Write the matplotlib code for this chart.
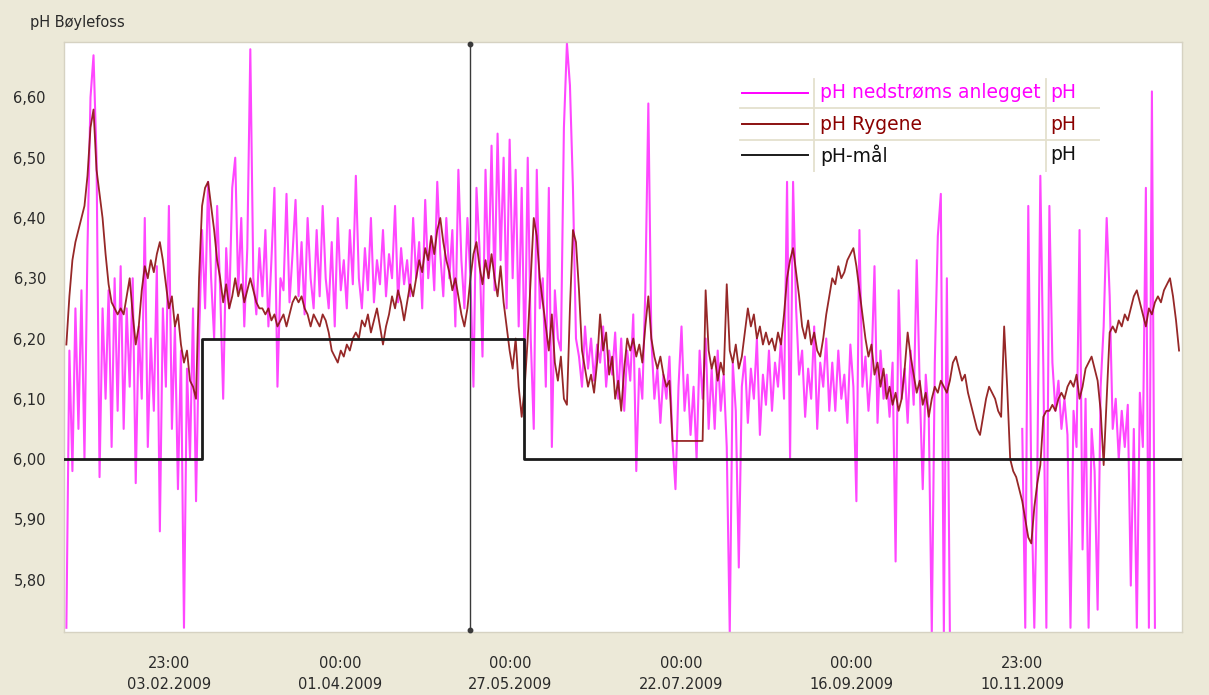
import numpy as np
import matplotlib
matplotlib.use("Agg")
import matplotlib.pyplot as plt
from matplotlib.patches import Rectangle

# ---------------- data (days counted from 01.01.2009 00:00) ----------------
title = "pH Bøylefoss"
series_names = ["pH nedstrøms anlegget", "pH Rygene", "pH-mål"]
series_units = ["pH", "pH", "pH"]

tick_days = [33.958, 90, 146, 202, 258, 313.958]
tick_labels = ["23:00\n03.02.2009", "00:00\n01.04.2009", "00:00\n27.05.2009",
               "00:00\n22.07.2009", "00:00\n16.09.2009", "23:00\n10.11.2009"]
y_ticks = [5.80, 5.90, 6.00, 6.10, 6.20, 6.30, 6.40, 6.50, 6.60]

sample_step = 0.99          # days between the read-off samples

# pH nedstrøms anlegget, first part (before the data gap)
ned_start_1 = 0.22
ned_values_1 = [
    5.72, 6.18, 5.98, 6.25,
    6.05, 6.28, 6.00, 6.35,
    6.60, 6.67, 6.50,
    5.97,
    6.25, 6.10, 6.28, 6.02, 6.30, 6.08,
    6.32, 6.05, 6.25, 6.12, 6.30, 5.96,
    6.22, 6.10, 6.40, 6.02, 6.20, 6.08, 6.32,
    5.88, 6.25, 6.12, 6.42, 6.05, 6.22, 5.95, 6.18,
    5.72,
    6.15, 6.00, 6.25, 5.93, 6.20,
    6.38, 6.25, 6.46, 6.30, 6.20, 6.42, 6.28, 6.10, 6.35,
    6.25, 6.45, 6.50, 6.28, 6.40, 6.22, 6.35, 6.68,
    6.30, 6.24, 6.35, 6.27, 6.38, 6.22, 6.33, 6.45, 6.12, 6.30,
    6.28, 6.44, 6.26, 6.34, 6.43, 6.27, 6.36, 6.24, 6.40, 6.30, 6.25, 6.38,
    6.27, 6.42, 6.30, 6.25, 6.36, 6.22, 6.40, 6.28, 6.33, 6.25,
    6.38, 6.29, 6.47, 6.30, 6.25, 6.35, 6.28, 6.40, 6.26, 6.33,
    6.29, 6.38, 6.27, 6.34, 6.30, 6.42, 6.26, 6.35, 6.29, 6.33,
    6.27, 6.40, 6.30, 6.36, 6.25, 6.43, 6.30, 6.37, 6.28, 6.46,
    6.34, 6.27, 6.40, 6.30, 6.38, 6.22, 6.48, 6.33, 6.25, 6.40,
    6.30, 6.12, 6.45, 6.35, 6.17, 6.48, 6.30, 6.52, 6.28, 6.54,
    6.33, 6.50, 6.25, 6.53, 6.30, 6.48, 6.22, 6.45,
    6.15, 6.50, 6.20, 6.05, 6.48, 6.25, 6.30, 6.12, 6.45, 6.02, 6.28, 6.20,
    6.18, 6.55, 6.69, 6.62, 6.45, 6.20,
    6.17, 6.12, 6.22, 6.15, 6.20, 6.13, 6.19, 6.16, 6.22, 6.12, 6.18, 6.14, 6.21, 6.10,
    6.20, 6.08, 6.18, 6.13, 6.24, 5.98, 6.15, 6.10, 6.28, 6.59,
    6.20, 6.10, 6.15, 6.06, 6.14, 6.10, 6.17, 6.03, 5.95, 6.12,
    6.22, 6.08, 6.14, 6.04, 6.12, 6.00, 6.18, 6.10, 6.20, 6.05,
    6.15, 6.05, 6.18, 6.08, 6.14, 6.02, 5.71, 6.16, 6.08, 5.82,
    6.12, 6.17, 6.06, 6.15, 6.10, 6.20, 6.04, 6.14, 6.09, 6.18,
    6.08, 6.16, 6.12, 6.20, 6.10, 6.46, 6.00, 6.46, 6.25, 6.14,
    6.18, 6.07, 6.15, 6.10, 6.22, 6.05, 6.16, 6.12, 6.20, 6.08,
    6.16, 6.08, 6.18, 6.10, 6.14, 6.06, 6.19, 6.12, 5.93, 6.38,
    6.12, 6.17, 6.08, 6.15, 6.32, 6.06, 6.18, 6.10, 6.14, 6.07,
    6.16, 5.83, 6.28, 6.10, 6.15, 6.06, 6.18, 6.09, 6.33, 6.12,
    5.95, 6.14, 6.07, 5.71, 6.16, 6.37, 6.44, 5.71, 6.30, 5.71,
]
# second part after the data gap
ned_start_2 = 314.05
ned_values_2 = [
    6.05, 5.72, 6.42, 5.96, 5.72, 5.98, 6.47, 6.15, 5.72, 6.42,
    6.16, 6.08, 6.13, 6.05, 6.10, 6.04, 5.72, 6.08, 6.02, 6.38,
    5.85, 6.10, 5.72, 6.05, 5.98, 5.75, 6.12, 6.22, 6.40, 6.27,
    6.05, 6.10, 6.00, 6.08, 6.02, 6.09, 5.79, 6.05, 5.72, 6.11,
    6.02, 6.45, 5.72, 6.61, 5.72,
]

# pH Rygene
ryg_start = 0.22
ryg_values = [
    6.19, 6.27, 6.33, 6.36, 6.38, 6.40, 6.42, 6.47, 6.55, 6.58,
    6.48, 6.44, 6.40, 6.34, 6.29, 6.26, 6.25, 6.24, 6.25, 6.24,
    6.27, 6.30, 6.24, 6.19, 6.22, 6.28, 6.32, 6.30, 6.33, 6.31,
    6.34, 6.36, 6.33, 6.29, 6.25, 6.27, 6.22, 6.24, 6.19, 6.16,
    6.18, 6.13, 6.12, 6.10, 6.30, 6.42, 6.45, 6.46, 6.42, 6.38,
    6.33, 6.30, 6.26, 6.29, 6.25, 6.27, 6.30, 6.27, 6.29, 6.26,
    6.28, 6.30, 6.28, 6.26, 6.25, 6.25, 6.24, 6.25, 6.23, 6.24,
    6.22, 6.23, 6.24, 6.22, 6.24, 6.26, 6.27, 6.26, 6.27, 6.25,
    6.24, 6.22, 6.24, 6.23, 6.22, 6.24, 6.23, 6.21, 6.18, 6.17,
    6.16, 6.18, 6.17, 6.19, 6.18, 6.20, 6.21, 6.20, 6.23, 6.22,
    6.24, 6.21, 6.23, 6.25, 6.22, 6.19, 6.22, 6.24, 6.27, 6.25,
    6.28, 6.26, 6.23, 6.26, 6.29, 6.27, 6.30, 6.33, 6.31, 6.35,
    6.33, 6.37, 6.34, 6.38, 6.40, 6.36, 6.33, 6.31, 6.28, 6.30,
    6.27, 6.24, 6.22, 6.25, 6.30, 6.34, 6.36, 6.32, 6.29, 6.33,
    6.30, 6.34, 6.30, 6.27, 6.32, 6.26, 6.22, 6.18, 6.15, 6.20,
    6.12, 6.07, 6.12, 6.20, 6.30, 6.40, 6.37, 6.30, 6.26, 6.22,
    6.18, 6.24, 6.16, 6.13, 6.17, 6.10, 6.09, 6.25, 6.38, 6.36,
    6.28, 6.18, 6.15, 6.12, 6.14, 6.11, 6.16, 6.24, 6.18, 6.21,
    6.14, 6.17, 6.10, 6.13, 6.08, 6.15, 6.20, 6.18, 6.20, 6.17,
    6.19, 6.16, 6.22, 6.27, 6.20, 6.17, 6.15, 6.17, 6.14, 6.12,
    6.13, 6.03, 6.03, 6.03, 6.03, 6.03, 6.03, 6.03, 6.03, 6.03,
    6.03, 6.03, 6.28, 6.18, 6.15, 6.17, 6.13, 6.16, 6.14, 6.29,
    6.18, 6.16, 6.19, 6.15, 6.17, 6.21, 6.25, 6.22, 6.24, 6.20,
    6.22, 6.19, 6.21, 6.19, 6.20, 6.18, 6.21, 6.19, 6.24, 6.30,
    6.33, 6.35, 6.31, 6.27, 6.22, 6.20, 6.23, 6.19, 6.21, 6.18,
    6.17, 6.20, 6.24, 6.27, 6.30, 6.29, 6.32, 6.30, 6.31, 6.33,
    6.34, 6.35, 6.32, 6.28, 6.24, 6.20, 6.17, 6.19, 6.14, 6.16,
    6.12, 6.15, 6.10, 6.12, 6.09, 6.11, 6.08, 6.10, 6.15, 6.21,
    6.17, 6.14, 6.11, 6.13, 6.09, 6.11, 6.07, 6.10, 6.12, 6.11,
    6.13, 6.12, 6.11, 6.13, 6.16, 6.17, 6.15, 6.13, 6.14, 6.11,
    6.09, 6.07, 6.05, 6.04, 6.07, 6.10, 6.12, 6.11, 6.10, 6.08,
    6.07, 6.22, 6.12, 6.00, 5.98, 5.97, 5.95, 5.93, 5.90, 5.87,
    5.86, 5.92, 5.96, 5.99, 6.07, 6.08, 6.08, 6.09, 6.08, 6.10,
    6.11, 6.10, 6.12, 6.13, 6.12, 6.14, 6.10, 6.12, 6.15, 6.16,
    6.17, 6.15, 6.13, 6.08, 5.99, 6.10, 6.21, 6.22, 6.21, 6.23,
    6.22, 6.24, 6.23, 6.25, 6.27, 6.28, 6.26, 6.24, 6.22, 6.25,
    6.24, 6.26, 6.27, 6.26, 6.28, 6.29, 6.30, 6.27, 6.23, 6.18,
]

# pH-mål (target), step changes
maal_days = [-1.0, 44.8, 150.6, 367.0]
maal_values = [6.00, 6.20, 6.00, 6.00]

cursor_day = 132.9

# ---------------- figure ----------------
W, H = 1209, 695
BG = "#ECE9D8"
fig = plt.figure(figsize=(W / 100, H / 100), dpi=100, facecolor=BG)

def fx(px):
    return px / W

def fy(py):
    return 1 - py / H

ax = fig.add_axes([fx(64), fy(632), fx(1182) - fx(64), fy(42) - fy(632)])
ax.set_facecolor("white")
for s in ax.spines.values():
    s.set_color("#D6D2C2")
    s.set_linewidth(1.0)

ned_days_1 = ned_start_1 + sample_step * np.arange(len(ned_values_1))
ned_days_2 = ned_start_2 + sample_step * np.arange(len(ned_values_2))
ryg_days = ryg_start + sample_step * np.arange(len(ryg_values))

mag = "#FF00FF"
for d, v in ((ned_days_1, ned_values_1), (ned_days_2, ned_values_2)):
    ax.plot(d, v, color=mag, lw=1.5, alpha=0.72, zorder=2)
ax.plot(ryg_days, ryg_values, color="#8B1010", lw=1.3, alpha=0.9, zorder=3)
ax.plot(maal_days, maal_values, color="#1A1A1A", lw=2.0, drawstyle="steps-post", zorder=4)

ylo, yhi = 5.713, 6.692
ax.plot([cursor_day, cursor_day], [ylo + 0.004, yhi - 0.004], color="#3A3A3A",
        lw=1.0, marker="o", ms=3.2, zorder=5, clip_on=False)

ax.set_xlim(-0.56, 366.5)
ax.set_ylim(ylo, yhi)
ax.set_yticks(y_ticks)
ax.set_yticklabels([f"{v:.2f}".replace(".", ",") for v in y_ticks])
ax.set_xticks(tick_days)
ax.set_xticklabels(tick_labels, linespacing=1.55)
ax.tick_params(axis="both", length=0, labelsize=10.5, colors="#2A2A2A")
ax.tick_params(axis="y", pad=13)
ax.tick_params(axis="x", pad=17)

fig.text(fx(30), fy(23), title, fontsize=10.5, color="#2A2A2A", va="center", ha="left")

# ---------------- legend table ----------------
lx0, lx1, ly0, ly1 = 736, 1100, 77, 172
lax = fig.add_axes([fx(lx0), fy(ly1), fx(lx1) - fx(lx0), fy(ly0) - fy(ly1)])
lax.set_xlim(lx0, lx1)
lax.set_ylim(ly1, ly0)
lax.axis("off")
lax.add_patch(Rectangle((lx0, ly0), lx1 - lx0, ly1 - ly0, facecolor="white",
                        edgecolor="none", zorder=0))
row_y = [93, 124, 155]
row_colors = ["#FF00FF", "#8B0000", "#111111"]
line_colors = ["#FF00FF", "#8B1010", "#1A1A1A"]
sep = "#E4E0CE"
for yy in (108, 140):
    lax.plot([740, 1100], [yy, yy], color=sep, lw=1.3, zorder=1)
for xx in (814, 1046):
    lax.plot([xx, xx], [ly0 + 2, ly1], color=sep, lw=1.3, zorder=1)
for name, unit, yy, tc, lc in zip(series_names, series_units, row_y, row_colors, line_colors):
    lax.plot([742, 808], [yy, yy], color=lc, lw=1.4, zorder=2)
    lax.text(820, yy, name, color=tc, fontsize=13.5, va="center", ha="left")
    lax.text(1050, yy, unit, color=tc, fontsize=13.5, va="center", ha="left")

fig.savefig("out.png", dpi=100, facecolor=BG)
